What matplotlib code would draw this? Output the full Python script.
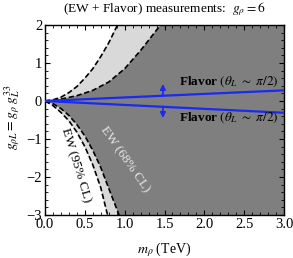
import matplotlib
matplotlib.use("Agg")
import matplotlib.pyplot as plt
from matplotlib.ticker import MultipleLocator

plt.rcParams['font.family'] = ['Liberation Serif', 'DejaVu Serif']
plt.rcParams['mathtext.fontset'] = 'stix'

# Boundary curves (m_rho in TeV, g_rhoL)
upper95_m = [0.0, 0.1, 0.2, 0.3, 0.4, 0.5, 0.6, 0.7, 0.8, 0.91]
upper95_g = [0.0, 0.03, 0.10, 0.22, 0.38, 0.60, 0.85, 1.17, 1.53, 2.0]
upper68_m = [0.0, 0.2, 0.4, 0.6, 0.8, 1.0, 1.2, 1.45]
upper68_g = [0.0, 0.05, 0.14, 0.28, 0.50, 0.85, 1.33, 2.0]
lower95_m = [0.0, 0.1, 0.2, 0.3, 0.4, 0.5, 0.6, 0.7, 0.785]
lower95_g = [0.0, -0.12, -0.30, -0.52, -0.82, -1.20, -1.68, -2.28, -3.0]
lower68_m = [0.0, 0.1, 0.2, 0.3, 0.4, 0.5, 0.6, 0.7, 0.8, 0.93]
lower68_g = [0.0, -0.07, -0.20, -0.38, -0.62, -0.92, -1.30, -1.75, -2.30, -3.0]

# Flavor lines
flavor_m = [0.0, 3.0]
flavor_up_g = [0.0, 0.28]
flavor_dn_g = [0.0, -0.31]
arrow_m = 1.48
arrow_up = (0.14, 0.45)
arrow_dn = (-0.14, -0.45)

xlim = (0.0, 3.0)
ylim = (-3.0, 2.0)

dark = '#7f7f7f'
light = '#d9d9d9'
blue = '#1a2af0'

fig = plt.figure(figsize=(2.93, 2.58), dpi=100)
ax = fig.add_axes([45/293, 1-215/258, 239/293, 190/258])
ax.set_facecolor(dark)

# upper regions
ax.fill(upper95_m + [0.0], upper95_g + [ylim[1]], color='white', lw=0, zorder=1)
ax.fill(upper95_m + upper68_m[::-1], upper95_g + upper68_g[::-1], color=light, lw=0, zorder=1)
# lower regions
ax.fill(lower95_m + [0.0], lower95_g + [ylim[0]], color='white', lw=0, zorder=1)
ax.fill(lower95_m + lower68_m[::-1], lower95_g + lower68_g[::-1], color=light, lw=0, zorder=1)

for mm, gg in [(upper95_m, upper95_g), (upper68_m, upper68_g),
               (lower95_m, lower95_g), (lower68_m, lower68_g)]:
    ax.plot(mm, gg, color='black', lw=1.2, ls=(0, (3.2, 1.6)), zorder=2)

ax.plot(flavor_m, flavor_up_g, color=blue, lw=1.6, zorder=3)
ax.plot(flavor_m, flavor_dn_g, color=blue, lw=1.6, zorder=3)
for a in (arrow_up, arrow_dn):
    ax.annotate('', xy=(arrow_m, a[1]), xytext=(arrow_m, a[0]),
                arrowprops=dict(arrowstyle='-|>', color=blue, lw=1.2,
                                mutation_scale=8, shrinkA=0, shrinkB=0), zorder=4)

flav = r'Flavor $(\theta_L\ \sim\ \pi/2)$'
ax.text(2.30, 0.50, flav, ha='center', va='center',
        fontsize=9.5, fontweight='bold', zorder=5)
ax.text(2.30, -0.43, flav, ha='center', va='center',
        fontsize=9.5, fontweight='bold', zorder=5)
ax.text(1.0, -1.53, 'EW (68% CL)', rotation=-55, ha='center', va='center',
        fontsize=9.5, color='#e6e6e6', zorder=5)
ax.text(0.385, -1.70, 'EW (95% CL)', rotation=-73, ha='center', va='center',
        fontsize=9.5, color='black', zorder=5)

ax.set_xlim(*xlim)
ax.set_ylim(*ylim)
ax.xaxis.set_major_locator(MultipleLocator(0.5))
ax.xaxis.set_minor_locator(MultipleLocator(0.1))
ax.yaxis.set_major_locator(MultipleLocator(1))
ax.yaxis.set_minor_locator(MultipleLocator(0.2))
ax.xaxis.set_major_formatter(plt.FuncFormatter(lambda v, p: f'{v:.1f}'))
ax.yaxis.set_major_formatter(plt.FuncFormatter(lambda v, p: f'{int(round(v))}'.replace('-', '\u2212')))
ax.tick_params(which='both', direction='in', top=True, right=True, labelsize=10.5)
ax.tick_params(axis='x', pad=2.5)
ax.tick_params(axis='y', pad=2)
ax.tick_params(which='major', length=3.5, width=0.8)
ax.tick_params(which='minor', length=2, width=0.6)
for s in ax.spines.values():
    s.set_linewidth(1.0)

ax.set_xlabel(r'$m_\rho$ (TeV)', fontsize=10, labelpad=6.5)
ax.set_ylabel(r'$g_{\rho L} = g_\rho\; g_L^{33}$', fontsize=10)
ax.yaxis.set_label_coords(-0.096, 0.515)
ax.set_title(r'(EW + Flavor) measurements:  $g_\rho = 6$', fontsize=9.6, pad=9)

fig.savefig('out.png', dpi=100)
